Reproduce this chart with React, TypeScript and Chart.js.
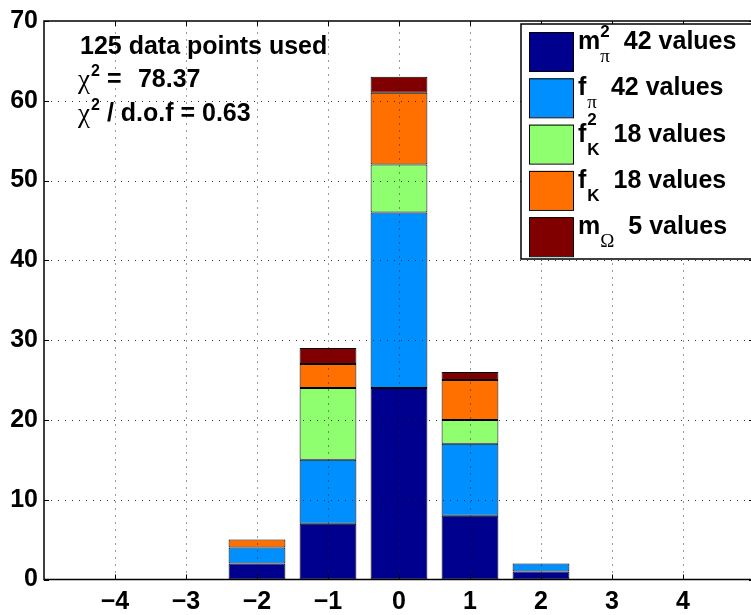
import React, { useEffect, useRef } from "react";
import { Chart, registerables } from "chart.js";

Chart.register(...registerables);

// ---- data ----
const categories = [-4, -3, -2, -1, 0, 1, 2, 3, 4];
const mPi2 = [0, 0, 2, 7, 24, 8, 1, 0, 0];
const fPi = [0, 0, 2, 8, 22, 9, 1, 0, 0];
const fK2 = [0, 0, 0, 9, 6, 3, 0, 0, 0];
const fK = [0, 0, 1, 3, 9, 5, 0, 0, 0];
const mOmega = [0, 0, 0, 2, 2, 1, 0, 0, 0];
const xRange = [-5, 5];
const yTicks = [0, 10, 20, 30, 40, 50, 60, 70];
const seriesSymbol = ["m", "f", "f", "f", "m"];
const seriesSup = ["2", "", "2", "", ""];
const seriesSub = ["π", "π", "K", "K", "Ω"];
const seriesColors = ["#00008F", "#008FFF", "#8FFF70", "#FF7000", "#800000"];
const chiSquared = "78.37";
const chiPerDof = "0.63";

const seriesData = [mPi2, fPi, fK2, fK, mOmega];
const sum = (a: number[]) => a.reduce((s, v) => s + v, 0);

const SANS = '"Liberation Sans", Arial, Helvetica, sans-serif';
const SERIF = '"Liberation Serif", "DejaVu Serif", serif';

const fmt = (v: number) => (v < 0 ? "\u2212" + Math.abs(v) : String(v));

const gridPlugin = {
  id: "dotGrid",
  afterDatasetsDraw(chart: any) {
    const ctx = chart.ctx;
    const { left, right, top, bottom } = chart.chartArea;
    ctx.save();
    ctx.beginPath();
    ctx.rect(left, top, right - left, bottom - top);
    ctx.clip();
    ctx.strokeStyle = "rgba(30,30,30,0.9)";
    ctx.lineWidth = 1;
    ctx.setLineDash([1, 6]);
    const xs = chart.scales.x;
    for (let i = 1; i < xs.ticks.length - 1; i++) {
      const px = Math.round(xs.getPixelForTick(i)) + 0.5;
      ctx.beginPath();
      ctx.moveTo(px, bottom);
      ctx.lineTo(px, top);
      ctx.stroke();
    }
    const ys = chart.scales.y;
    for (const t of ys.ticks) {
      if (t.value === yTicks[0] || t.value === yTicks[yTicks.length - 1]) continue;
      const py = Math.round(ys.getPixelForValue(t.value)) + 0.5;
      ctx.beginPath();
      ctx.moveTo(left, py);
      ctx.lineTo(right, py);
      ctx.stroke();
    }
    ctx.restore();
  },
};

const framePlugin = {
  id: "frame",
  afterDraw(chart: any) {
    const ctx = chart.ctx;
    const { left, right, top, bottom } = chart.chartArea;
    ctx.save();
    ctx.strokeStyle = "#000";
    ctx.lineWidth = 1.5;
    ctx.beginPath();
    ctx.moveTo(left, top);
    ctx.lineTo(right, top);
    ctx.lineTo(right, bottom);
    ctx.lineTo(left, bottom);
    ctx.closePath();
    ctx.stroke();
    // inner tick marks
    ctx.lineWidth = 1;
    const xs = chart.scales.x;
    for (let i = 1; i < xs.ticks.length - 1; i++) {
      const px = Math.round(xs.getPixelForTick(i)) + 0.5;
      ctx.beginPath();
      ctx.moveTo(px, bottom);
      ctx.lineTo(px, bottom - 5);
      ctx.moveTo(px, top);
      ctx.lineTo(px, top + 5);
      ctx.stroke();
    }
    const ys = chart.scales.y;
    for (const t of ys.ticks) {
      const py = Math.round(ys.getPixelForValue(t.value)) + 0.5;
      ctx.beginPath();
      ctx.moveTo(left, py);
      ctx.lineTo(left + 5, py);
      ctx.moveTo(right, py);
      ctx.lineTo(right - 5, py);
      ctx.stroke();
    }
    ctx.restore();
  },
};

const annotationPlugin = {
  id: "annot",
  afterDraw(chart: any) {
    const ctx = chart.ctx;
    ctx.save();
    ctx.fillStyle = "#000";
    ctx.textBaseline = "alphabetic";
    const total = sum(seriesData.map(sum));
    ctx.font = `bold 25px ${SANS}`;
    ctx.fillText(`${total} data points used`, 80, 54);

    const drawChi = (baseline: number) => {
      ctx.font = `27px ${SERIF}`;
      ctx.fillText("χ", 78, baseline + 1);
      const w = ctx.measureText("χ").width;
      ctx.font = `bold 16px ${SANS}`;
      ctx.fillText("2", 78 + w + 1, baseline - 11);
      const w2 = ctx.measureText("2").width;
      ctx.font = `bold 25px ${SANS}`;
      return 78 + w + 1 + w2;
    };
    let x = drawChi(87);
    ctx.fillText("=", x + 7, 87);
    ctx.fillText(chiSquared, x + 38, 87);
    x = drawChi(121);
    ctx.fillText("/ d.o.f = " + chiPerDof, x + 7, 121);
    ctx.restore();
  },
};

const legendPlugin = {
  id: "customLegend",
  afterDraw(chart: any) {
    const ctx = chart.ctx;
    ctx.save();
    const bx = 521, by = 24, bw = 260, bh = 235;
    ctx.fillStyle = "#fff";
    ctx.fillRect(bx, by, bw, bh);
    ctx.strokeStyle = "#000";
    ctx.lineWidth = 1.5;
    ctx.strokeRect(bx, by, bw, bh);
    for (let i = 0; i < seriesData.length; i++) {
      const rowTop = 32 + i * 46.3;
      ctx.fillStyle = seriesColors[i];
      ctx.fillRect(529, rowTop, 44, 39);
      ctx.lineWidth = 1;
      ctx.strokeStyle = "#000";
      ctx.strokeRect(529.5, rowTop + 0.5, 44, 39);
      const base = rowTop + 17;
      ctx.fillStyle = "#000";
      ctx.font = `bold 25px ${SANS}`;
      const sym = seriesSymbol[i];
      ctx.fillText(sym, 578, base);
      const sx = 578 + ctx.measureText(sym).width + (sym === "f" ? 1 : 0);
      let supW = 0;
      if (seriesSup[i]) {
        ctx.font = `bold 17px ${SANS}`;
        ctx.fillText(seriesSup[i], sx, base - (sym === "f" ? 17 : 12));
        supW = ctx.measureText(seriesSup[i]).width;
      }
      const sub = seriesSub[i];
      const subSans = sub === "K";
      ctx.font = subSans ? `bold 17px ${SANS}` : `19px ${SERIF}`;
      ctx.fillText(sub, sx, base + 13);
      const subW = ctx.measureText(sub).width;
      const cx = sx + Math.max(supW, subW) + 14;
      ctx.font = `bold 25px ${SANS}`;
      ctx.fillText(`${sum(seriesData[i])} values`, cx, base);
    }
    ctx.restore();
  },
};

export default function App() {
  const ref = useRef<HTMLCanvasElement>(null);
  useEffect(() => {
    if (!ref.current) return;
    const labels = [String(xRange[0]), ...categories.map(String), String(xRange[1])];
    const pad = (a: number[]) => [null, ...a, null];
    const chart = new Chart(ref.current, {
      type: "bar",
      data: {
        labels,
        datasets: seriesData.map((d, i) => ({
          label: seriesSymbol[i] + seriesSub[i],
          data: pad(d) as any,
          backgroundColor: seriesColors[i],
          borderColor: "#000",
          borderWidth: 1,
          borderSkipped: false,
          barPercentage: 0.8,
          categoryPercentage: 1.0,
        })),
      },
      options: {
        animation: false,
        responsive: true,
        maintainAspectRatio: false,
        layout: { padding: { top: 15.5, right: 3.6, left: 0, bottom: 0 } },
        plugins: { legend: { display: false }, tooltip: { enabled: false }, title: { display: false } },
        scales: {
          x: {
            type: "category",
            stacked: true,
            offset: false,
            grid: { display: false, offset: false, drawTicks: false },
            border: { display: false },
            ticks: {
              autoSkip: false,
              maxRotation: 0,
              padding: 8,
              color: "#000",
              font: { family: SANS, size: 25, weight: "bold" },
              callback: (_v: any, idx: number) =>
                idx === 0 || idx === labels.length - 1 ? "" : fmt(Number(labels[idx])),
            },
            afterFit: (s: any) => {
              s.height = 35.5;
            },
          },
          y: {
            stacked: true,
            min: yTicks[0],
            max: yTicks[yTicks.length - 1],
            grid: { display: false, drawTicks: false },
            border: { display: false },
            ticks: {
              stepSize: yTicks[1] - yTicks[0],
              padding: 6,
              color: "#000",
              font: { family: SANS, size: 25, weight: "bold" },
            },
            afterFit: (s: any) => {
              s.width = 44;
            },
          },
        },
      },
      plugins: [gridPlugin, framePlugin, annotationPlugin, legendPlugin],
    } as any);
    return () => chart.destroy();
  }, []);
  return (
    <div style={{ position: "absolute", left: 0, top: 0, width: 751, height: 615, overflow: "hidden", background: "#fff" }}>
      <div style={{ position: "relative", width: 762, height: 615 }}>
        <canvas ref={ref} />
      </div>
    </div>
  );
}
